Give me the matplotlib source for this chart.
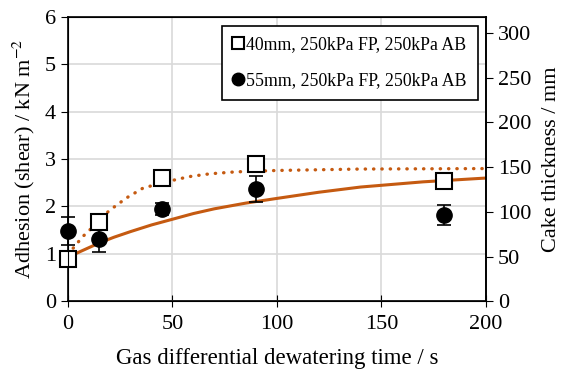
import matplotlib.pyplot as plt
from matplotlib.lines import Line2D

plt.rcParams['font.family'] = ['Liberation Serif', 'DejaVu Serif']
plt.rcParams['mathtext.fontset'] = 'stix'

tempo = [0, 15, 45, 90, 180]
adesao_40 = [0.89, 1.67, 2.6, 2.9, 2.54]
erro_40 = [0.0, 0.1, 0.0, 0.15, 0.15]
adesao_55 = [1.48, 1.31, 1.95, 2.37, 1.82]
erro_55 = [0.3, 0.28, 0.12, 0.28, 0.22]

# linhas de tendencia
t_solida = [0, 8, 15, 22, 30, 40, 50, 60, 70, 85, 100, 120, 140, 170, 200]
y_solida = [0.93, 1.09, 1.23, 1.35, 1.47, 1.61, 1.73, 1.85, 1.95, 2.07, 2.17, 2.30, 2.41, 2.52, 2.6]
t_pontilhada = [2.5, 7, 12, 16, 20, 28, 36, 49, 58, 68, 80, 100, 140, 200]
y_pontilhada = [1.12, 1.36, 1.57, 1.76, 1.92, 2.18, 2.39, 2.54, 2.63, 2.69, 2.73, 2.76, 2.79, 2.8]

laranja = '#C55A11'

fig = plt.figure(figsize=(5.71, 3.70), dpi=100)
ax = fig.add_axes([0.119, 0.186, 0.732, 0.768])

ax.grid(True, color='#D9D9D9', linewidth=1.2, zorder=0)
ax.set_axisbelow(True)

ax.plot(t_solida, y_solida, color=laranja, linewidth=2.2, zorder=2)
ax.plot(t_pontilhada, y_pontilhada, color=laranja, linewidth=2.4, linestyle=(0, (0.1, 2.4)),
        dash_capstyle='round', zorder=2)

eb55 = ax.errorbar(tempo, adesao_55, yerr=erro_55, fmt='o', color='black', markersize=11,
                   ecolor='black', elinewidth=1.2, capsize=5, capthick=1.2, zorder=3)
eb40 = ax.errorbar(tempo, adesao_40, yerr=erro_40, fmt='s', markerfacecolor='white',
                   markeredgecolor='black', markeredgewidth=1.5, markersize=11,
                   ecolor='black', elinewidth=1.2, capsize=5, capthick=1.2, zorder=4)
for eb in (eb55, eb40):
    eb[0].set_clip_on(False)
    for c in eb[1]:
        c.set_clip_on(False)
    for b in eb[2]:
        b.set_clip_on(False)

ax.set_xlim(0, 200)
ax.set_ylim(0, 6)
ax.set_xticks([0, 50, 100, 150, 200])
ax.set_yticks([0, 1, 2, 3, 4, 5, 6])
ax.tick_params(axis='x', direction='inout', length=8, labelsize=16, pad=6)
ax.tick_params(axis='y', direction='out', length=5, labelsize=16)
ax.set_xlabel('Gas differential dewatering time / s', fontsize=16.5, labelpad=10)
ax.set_ylabel('Adhesion (shear) / kN m$^{\\mathrm{-2}}$', fontsize=16, labelpad=6)
for lado in ax.spines.values():
    lado.set_linewidth(1.2)

ax2 = ax.twinx()
ax2.set_ylim(0, 318)
ax2.set_yticks([0, 50, 100, 150, 200, 250, 300])
ax2.tick_params(axis='y', direction='out', length=5, labelsize=16)
ax2.set_ylabel('Cake thickness / mm', fontsize=16, labelpad=8)
ax2.spines['right'].set_linewidth(1.2)

alca = [
    Line2D([], [], linestyle='none', marker='s', markersize=8, markerfacecolor='white',
           markeredgecolor='black', markeredgewidth=1.5),
    Line2D([], [], linestyle='none', marker='o', markersize=9, color='black'),
]
rotulos = ['40mm, 250kPa FP, 250kPa AB', '55mm, 250kPa FP, 250kPa AB']
leg = ax2.legend(alca, rotulos, loc='upper right', bbox_to_anchor=(0.98, 0.97),
                 fontsize=12.8, frameon=True, fancybox=False, edgecolor='black',
                 framealpha=1, handlelength=0.6, handletextpad=0.15, labelspacing=1.05,
                 borderpad=0.6, borderaxespad=0)
leg.get_frame().set_linewidth(1.2)

fig.savefig('out.png', dpi=100)
